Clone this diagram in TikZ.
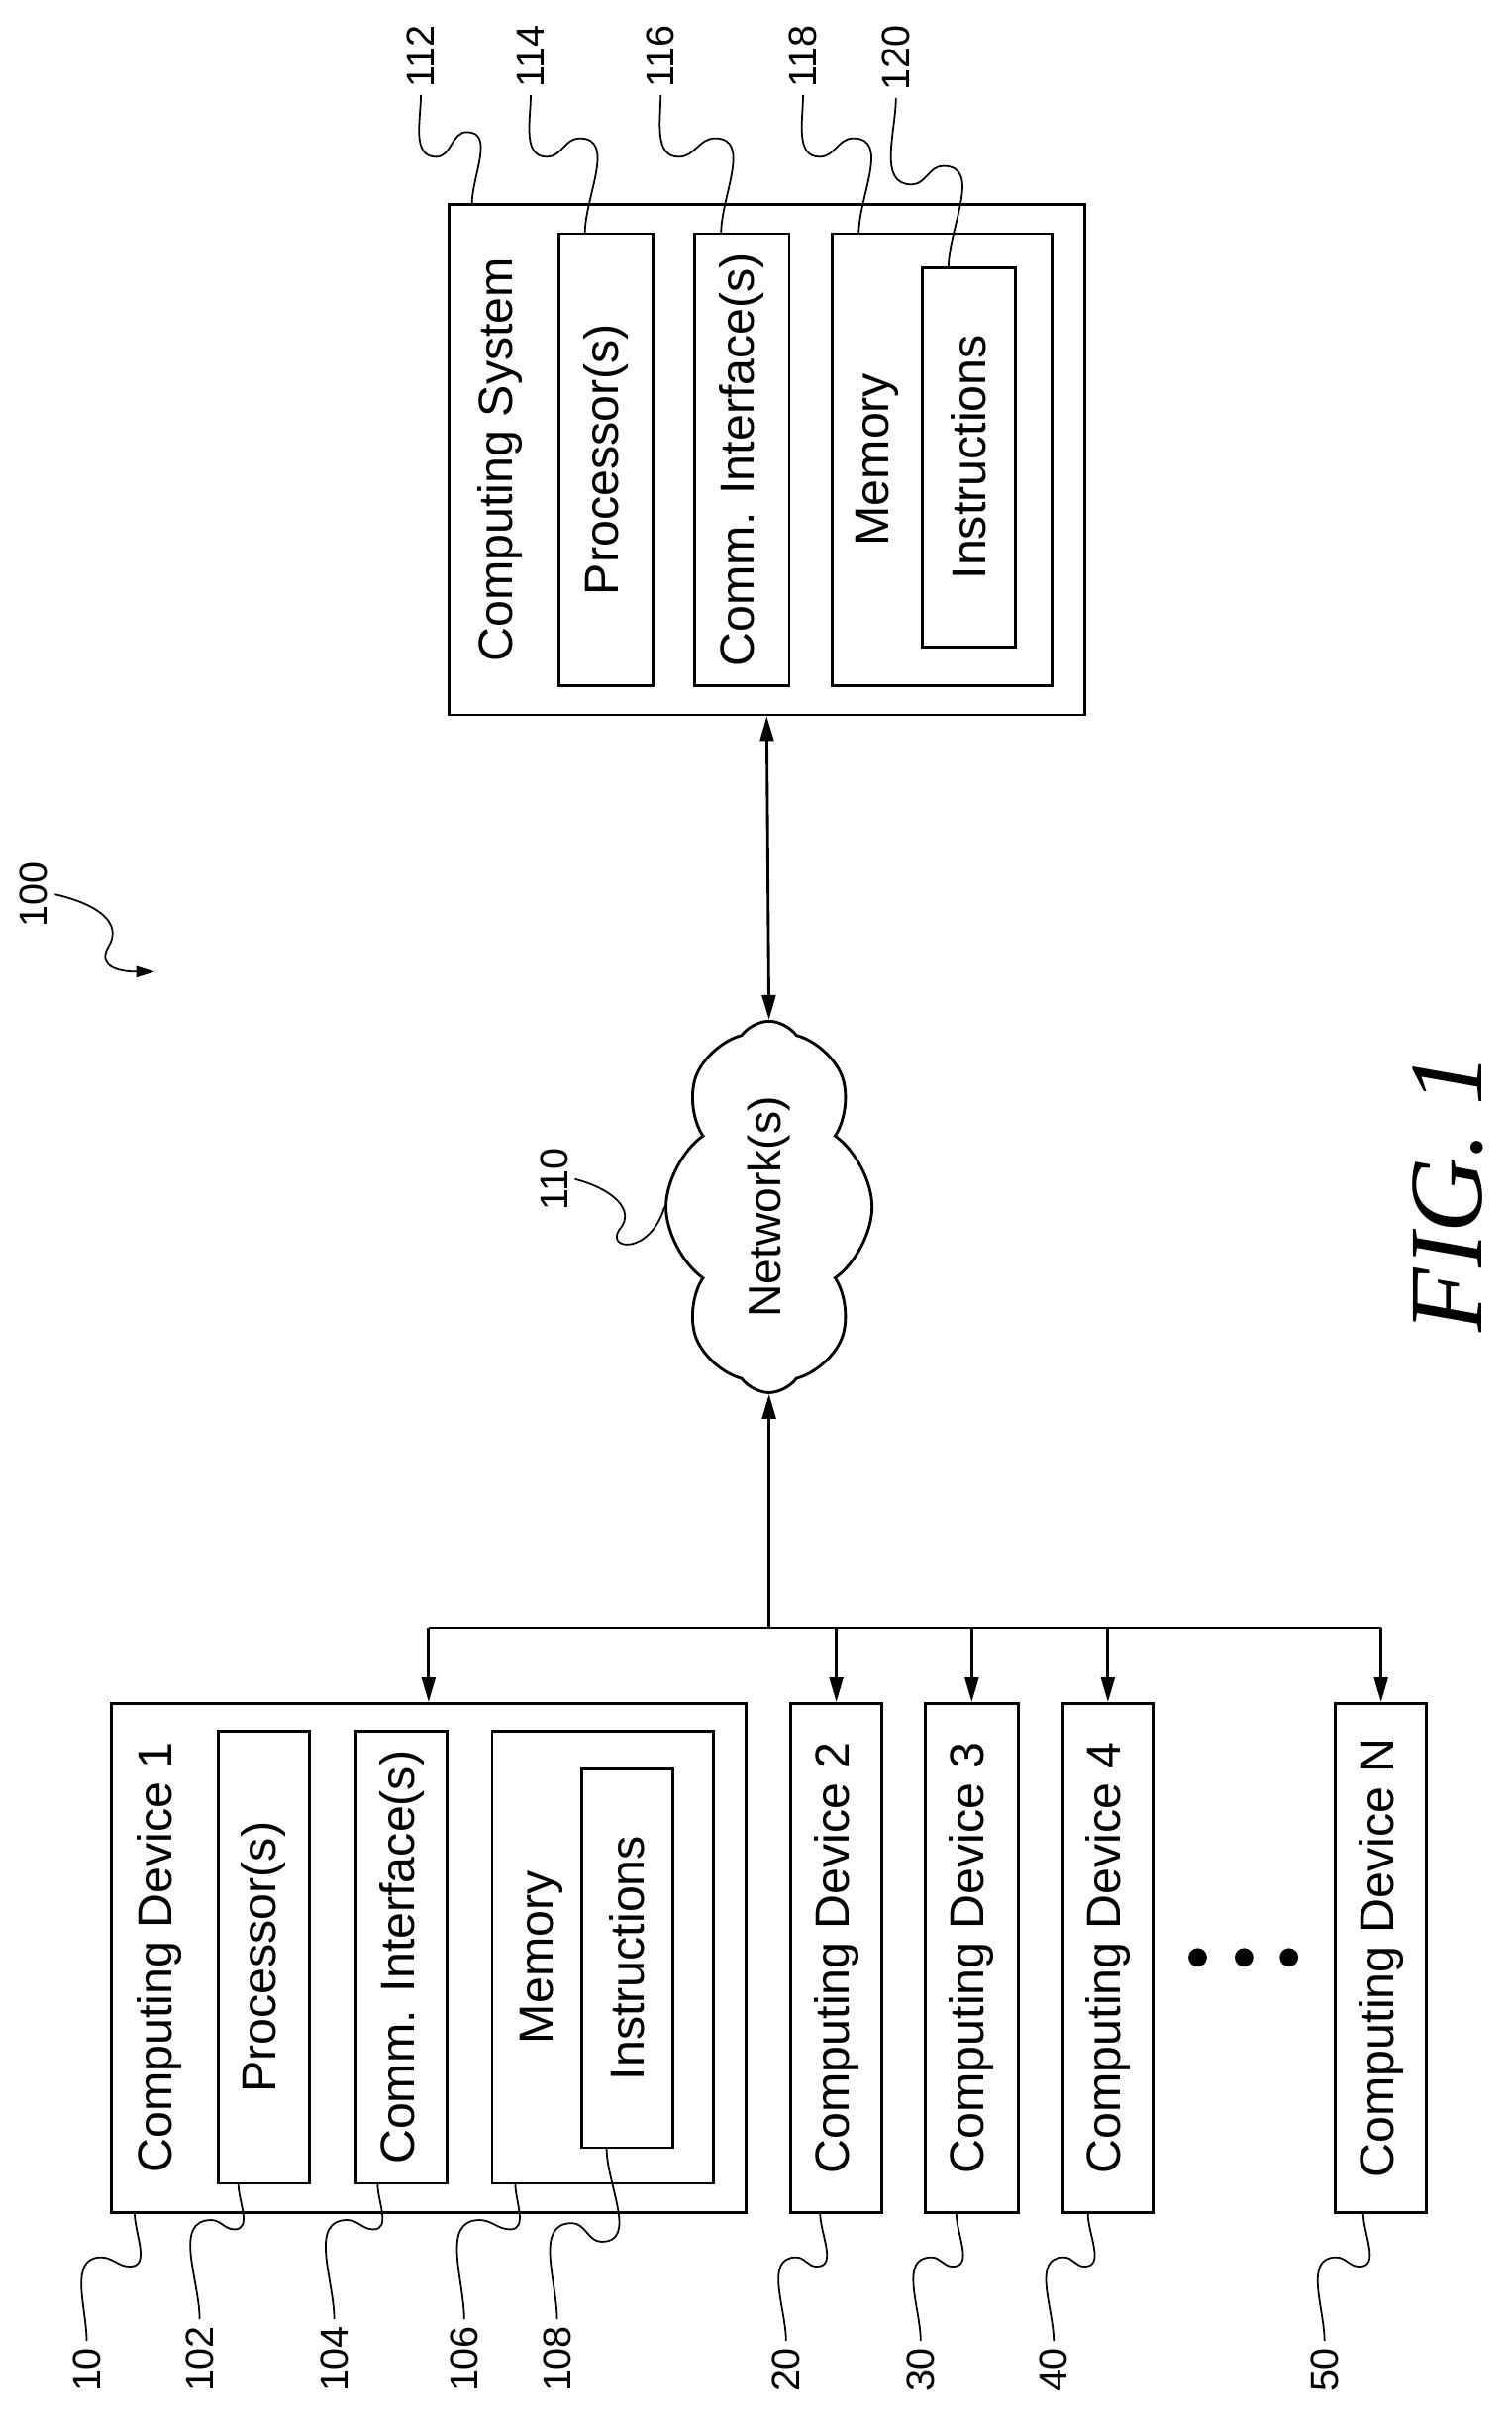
\documentclass[tikz,border=0pt]{standalone}
\usepackage{fontspec}
\setmainfont{Liberation Sans}
\newfontfamily\figfont{Liberation Serif}
\usetikzlibrary{arrows.meta,positioning}
\usetikzlibrary{shapes.symbols}
\usetikzlibrary{calc}
\usetikzlibrary{fit}

% leader line from a reference numeral to its part
\newcommand{\refline}[6]{%
  \draw[leader] (#1) to[out=#5,in=180] ($(#1)!0.3!(#1 -| #2) + (0,#3)$)
    to[out=0,in=180] ($(#1)!0.9!(#1 -| #2) + (0,#4)$)
    to[out=0,in=#6] (#2);}

\begin{document}
\begin{tikzpicture}[
        x=0.025cm, y=-0.025cm,
        box/.style={rectangle, draw, line width=1.3pt, inner sep=0pt},
        txt/.style={rotate=90, font=\fontsize{22}{26}\selectfont},
        num/.style={rotate=90, font=\fontsize{18}{20}\selectfont, inner sep=3pt},
        netcloud/.style={cloud, draw, line width=1.3pt, cloud puffs=8, cloud puff arc=110,
            aspect=2.2, minimum width=6.0cm, minimum height=2.7cm, rotate=90,
            font=\fontsize{21}{24}\selectfont},
        dot/.style={circle, fill, inner sep=0pt, minimum size=0.3cm},
        leader/.style={line width=0.8pt},
        conn/.style={line width=1.3pt, -{Triangle[length=0.4cm,width=0.22cm]}},
        dconn/.style={line width=1.3pt, {Triangle[length=0.4cm,width=0.22cm]}-{Triangle[length=0.4cm,width=0.22cm]}},
    ]
    \useasboundingbox (0,0) rectangle (977,1564);

    % computing system
    \node[box, fit={(290,132) (701,462)}] (sys) {};
    \node[box, fit={(361,151) (422,443)}] (sysproc) {};
    \node[box, fit={(449,151) (510,443)}] (syscomm) {};
    \node[box, fit={(538,151) (680,443)}] (sysmem) {};
    \node[box, fit={(596,173) (656,418)}] (sysinstr) {};
    \node[txt] (systxt) at (323,297) {Computing System};
    \node[txt] at (sysproc) {Processor(s)};
    \node[txt] at (syscomm) {Comm. Interface(s)};
    \node[txt] (sysmemtxt) at (567,297) {Memory};
    \node[txt] at (sysinstr) {Instructions};

    % network
    \node[netcloud] (net) at (497,780) {Network(s)};

    % computing devices
    \node[box, fit={(72,1101) (482,1430)}] (dev1) {};
    \node[box, fit={(141,1119) (200,1411)}] (devproc) {};
    \node[box, fit={(230,1119) (289,1411)}] (devcomm) {};
    \node[box, fit={(318,1119) (461,1411)}] (devmem) {};
    \node[box, fit={(376,1143) (435,1388)}] (devinstr) {};
    \node[txt] (dev1txt) at (103,1265) {Computing Device 1};
    \node[txt] at (devproc) {Processor(s)};
    \node[txt] at (devcomm) {Comm. Interface(s)};
    \node[txt] (devmemtxt) at (350,1265) {Memory};
    \node[txt] at (devinstr) {Instructions};

    \node[box, fit={(511,1101) (570,1430)}] (dev2) {};
    \node[box, fit={(598,1101) (658,1430)}] (dev3) {};
    \node[box, fit={(687,1101) (745,1430)}] (dev4) {};
    \node[box, fit={(863,1101) (922,1430)}] (devN) {};
    \node[txt] at (dev2) {Computing Device 2};
    \node[txt] at (dev3) {Computing Device 3};
    \node[txt] at (dev4) {Computing Device 4};
    \node[txt] at (devN) {Computing Device N};

    \node[dot] (dot1) at (774,1265) {};
    \node[dot] (dot2) at (804,1265) {};
    \node[dot] (dot3) at (833,1265) {};

    % connections
    \coordinate (bus) at (497,1052);
    \draw[dconn] (net.east) -- (sys.south);
    \draw[conn] (bus) -- (net.west);
    \draw[line width=1.3pt] (dev1.north |- bus) -- (devN.north |- bus);
    \foreach \d in {dev1,dev2,dev3,dev4,devN}
        \draw[conn] (\d.north |- bus) -- (\d.north);

    % leader ends
    \coordinate (e112) at (305,132);
    \coordinate (e114) at (378,151);
    \coordinate (e116) at (466,151);
    \coordinate (e118) at (555,151);
    \coordinate (e120) at (613,173);
    \coordinate (e10) at (87,1430);
    \coordinate (e102) at (154,1411);
    \coordinate (e104) at (244,1411);
    \coordinate (e106) at (333,1411);
    \coordinate (e108) at (392,1388);
    \coordinate (e20) at (530,1430);
    \coordinate (e30) at (618,1430);
    \coordinate (e40) at (703,1430);
    \coordinate (e50) at (881,1430);

    % reference numerals, top
    \node[num, anchor=east] (l112) at (272,12) {112};
    \node[num, anchor=east] (l114) at (343,12) {114};
    \node[num, anchor=east] (l116) at (427,12) {116};
    \node[num, anchor=east] (l118) at (519,12) {118};
    \node[num, anchor=east] (l120) at (579,12) {120};
    \refline{l112.west}{e112}{-1.0cm}{-0.6cm}{-90}{90}
    \refline{l114.west}{e114}{-1.0cm}{-0.7cm}{-90}{90}
    \refline{l116.west}{e116}{-1.0cm}{-0.7cm}{-90}{90}
    \refline{l118.west}{e118}{-1.0cm}{-0.7cm}{-90}{90}
    \refline{l120.west}{e120}{-1.4cm}{-1.1cm}{-90}{90}

    % reference numerals, bottom
    \node[num, anchor=west] (l10) at (56,1550) {10};
    \node[num, anchor=west] (l102) at (129,1550) {102};
    \node[num, anchor=west] (l104) at (216,1550) {104};
    \node[num, anchor=west] (l106) at (300,1550) {106};
    \node[num, anchor=west] (l108) at (360,1550) {108};
    \node[num, anchor=west] (l20) at (508,1550) {20};
    \node[num, anchor=west] (l30) at (595,1550) {30};
    \node[num, anchor=west] (l40) at (681,1550) {40};
    \node[num, anchor=west] (l50) at (856,1550) {50};
    \refline{l10.east}{e10}{1.35cm}{1.2cm}{90}{-90}
    \refline{l102.east}{e102}{1.6cm}{1.45cm}{90}{-90}
    \refline{l104.east}{e104}{1.6cm}{1.45cm}{90}{-90}
    \refline{l106.east}{e106}{1.6cm}{1.45cm}{90}{-90}
    \refline{l108.east}{e108}{1.55cm}{1.25cm}{90}{-90}
    \refline{l20.east}{e20}{1.35cm}{1.2cm}{90}{-90}
    \refline{l30.east}{e30}{1.35cm}{1.2cm}{90}{-90}
    \refline{l40.east}{e40}{1.35cm}{1.2cm}{90}{-90}
    \refline{l50.east}{e50}{1.35cm}{1.2cm}{90}{-90}

    % system and network numerals
    \node[num] (l100) at (22,578) {100};
    \coordinate (tip100) at (100,628);
    \draw[leader, -{Triangle[length=0.3cm,width=0.18cm]}] (l100.south)
        .. controls (62,584) and (80,596) .. (70,612)
        .. controls (62,626) and (80,628) .. (tip100);
    \node[num] (l110) at (358,762) {110};
    \draw[leader] (l110.south) .. controls (395,768) and (412,782) .. (400,795)
        .. controls (392,808) and (420,811) .. (net.north);

    \node[rotate=90, font=\figfont\itshape\fontsize{48}{52}\selectfont] (fig) at (936,771) {FIG. 1};
\end{tikzpicture}
\end{document}
